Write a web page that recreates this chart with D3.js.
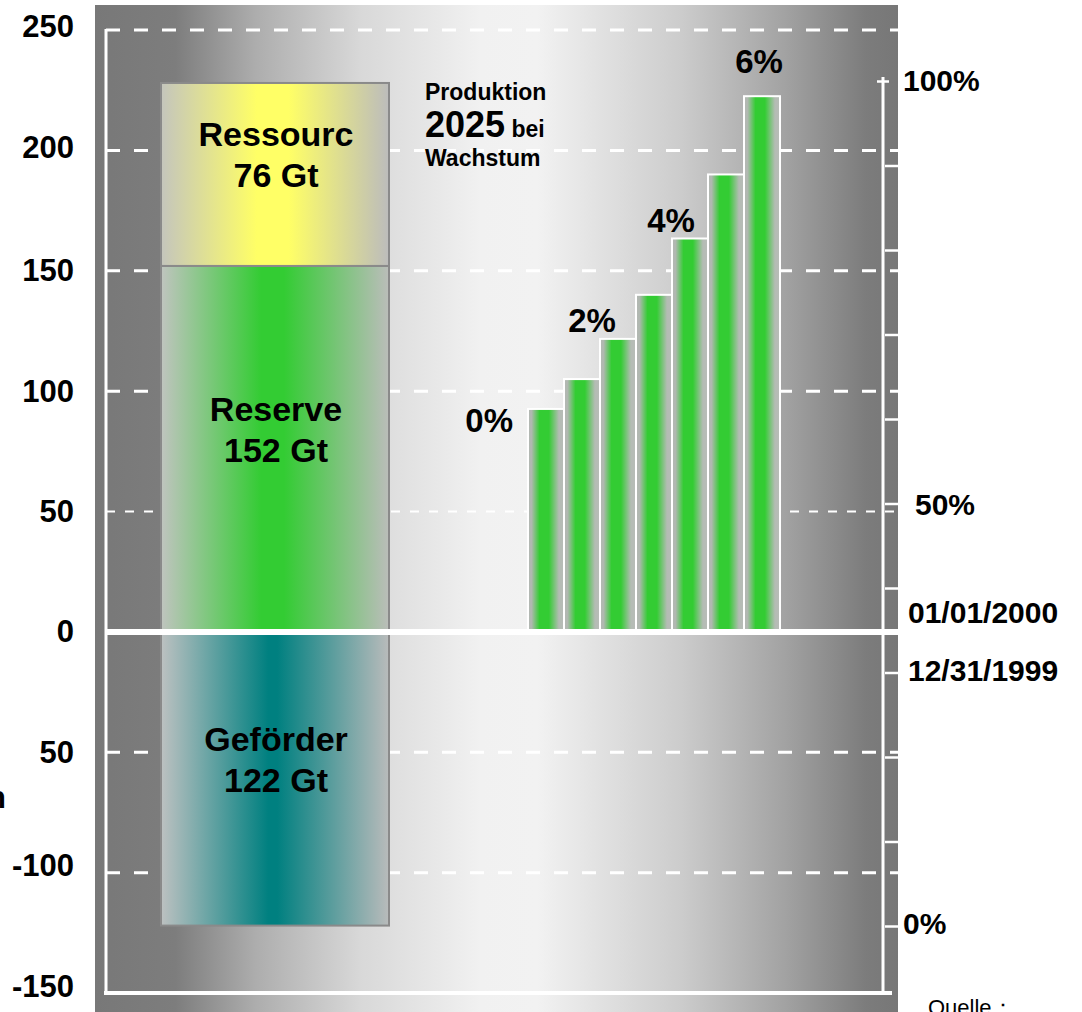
<!DOCTYPE html>
<html>
<head>
<meta charset="utf-8">
<script src="https://cdn.jsdelivr.net/npm/d3@7"></script>
<style>
  body { margin: 0; background: #ffffff; }
  svg { display: block; }
  text { font-family: "Liberation Sans", Arial, Helvetica, sans-serif; }
</style>
</head>
<body>
<svg id="chart" width="1082" height="1012"></svg>
<script>
// Coal balance (Gt): reserves and resources stacked above zero, extracted below
const stackKeys   = ["Reserve", "Ressourc", "Geförder"];
const stackValues = [152, 76, -122];
const stackText   = [["Reserve", "152 Gt"], ["Ressourc", "76 Gt"], ["Geförder", "122 Gt"]];

// Cumulative production up to 2025 for annual growth rates 0 % … 6 %
const growthRates    = ["0%", "1%", "2%", "3%", "4%", "5%", "6%"];
const production2025 = [92.6, 105, 121.7, 140, 163.4, 190, 222.5];
const growthLabels   = ["0%", "2%", "4%", "6%"];

// Left axis (Gt)
const leftTicks      = [250, 200, 150, 100, 50, 0, -50, -100, -150];
const leftTickLabels = ["250", "200", "150", "100", "50", "0", "50", "-100", "-150"];

// Right axis (share, %)
const rightTicks       = [0, 10, 20, 30, 40, 50, 60, 70, 80, 90, 100];
const rightLabelValues = [100, 50, 0];
const rightLabelTexts  = ["100%", "50%", "0%"];
const dateLabels       = ["01/01/2000", "12/31/1999"];

const svg  = d3.select("#chart");
const defs = svg.append("defs");

function hGradient(id, stops) {
  const g = defs.append("linearGradient")
    .attr("id", id).attr("x1", "0").attr("x2", "1").attr("y1", "0").attr("y2", "0");
  stops.forEach(([o, c]) => g.append("stop").attr("offset", o).attr("stop-color", c));
}

hGradient("bg", [[0, "#787878"], [0.1, "#7d7d7d"], [0.2, "#adadad"], [0.33, "#d8d8d8"],
                 [0.48, "#f1f1f1"], [0.55, "#f2f2f2"], [0.73, "#cccccc"], [0.86, "#a2a2a2"],
                 [0.96, "#7c7c7c"], [1, "#777777"]]);
hGradient("g-Ressourc", [[0, "#c4c5bd"], [0.42, "#ffff66"], [0.56, "#ffff66"], [1, "#bcbcbc"]]);
hGradient("g-Reserve",  [[0, "#c0c4bf"], [0.44, "#33cc33"], [0.54, "#33cc33"], [1, "#bbbdba"]]);
hGradient("g-Geförder", [[0, "#bdc1c1"], [0.47, "#008080"], [0.51, "#008080"], [1, "#b9bbbb"]]);
hGradient("g-bar",      [[0, "#b4b8b4"], [0.1, "#b0b8b0"], [0.32, "#33cc33"], [0.58, "#33cc33"],
                         [0.86, "#b4bcb4"], [1, "#b8bcb8"]]);

// Scales
const y = d3.scaleLinear().domain([-150, 250]).range([993, 30]);
const p = d3.scaleLinear().domain([0, 100]).range([926, 81]);
const xStack = d3.scaleBand().domain(["Kohle"]).range([161, 389]);
const xBars  = d3.scaleBand().domain(growthRates).range([528, 780]).padding(0);

const plotLeft = 95, plotRight = 898, axisX = 106, rightAxisX = 883;

// Plot background
svg.append("rect")
  .attr("x", plotLeft).attr("y", 5)
  .attr("width", plotRight - plotLeft).attr("height", 1012 - 5)
  .attr("fill", "url(#bg)");

// Dashed grid lines
const grid = svg.append("g");
leftTicks.filter(d => d !== 0 && d !== -150).forEach(d => {
  const fine = d === 50;
  grid.append("line")
    .attr("x1", axisX).attr("x2", plotRight)
    .attr("y1", y(d)).attr("y2", y(d))
    .attr("stroke", "#ffffff")
    .attr("stroke-width", fine ? 2 : 3)
    .attr("stroke-dasharray", fine ? "9,10" : "14,14");
});

// Stacked column
let posBase = 0, negBase = 0;
const segments = stackKeys.map((k, i) => {
  const v = stackValues[i];
  let y0, y1;
  if (v >= 0) { y0 = posBase; y1 = posBase + v; posBase = y1; }
  else { y0 = negBase + v; y1 = negBase; negBase = y0; }
  return { key: k, lo: y0, hi: y1, text: stackText[i] };
});

svg.append("g").selectAll("rect").data(segments).join("rect")
  .attr("x", xStack("Kohle"))
  .attr("width", xStack.bandwidth())
  .attr("y", d => y(d.hi))
  .attr("height", d => y(d.lo) - y(d.hi))
  .attr("fill", d => `url(#g-${d.key})`)
  .attr("stroke", "#8a8a8a")
  .attr("stroke-width", 2);

const segLabels = svg.append("g").attr("font-weight", "bold").attr("font-size", 34).attr("fill", "#000");
segments.forEach(s => {
  const cy = (y(s.lo) + y(s.hi)) / 2;
  const cx = xStack("Kohle") + xStack.bandwidth() / 2 + 1;
  const t = segLabels.append("text")
    .attr("text-anchor", "middle")
    .attr("x", cx)
    .attr("y", cy - 28);
  t.append("tspan").text(s.text[0]);
  t.append("tspan").attr("x", cx).attr("dy", 41).text(s.text[1]);
});

// Production bars
svg.append("g").selectAll("rect").data(production2025).join("rect")
  .attr("x", (d, i) => xBars(growthRates[i]))
  .attr("width", xBars.bandwidth())
  .attr("y", d => y(d))
  .attr("height", d => y(0) - y(d))
  .attr("fill", "url(#g-bar)")
  .attr("stroke", "#ffffff")
  .attr("stroke-width", 2);

// Growth rate labels above selected bars
const labelPlacement = {
  "0%": { anchor: "end",    dx: d => xBars(d) - 15,                         dy: 23 },
  "2%": { anchor: "middle", dx: d => xBars(d) - 8,                          dy: -7 },
  "4%": { anchor: "middle", dx: d => xBars(d) - 1,                          dy: -6 },
  "6%": { anchor: "middle", dx: d => xBars(d) + xBars.bandwidth() / 2 - 3,  dy: -23 }
};
svg.append("g").selectAll("text").data(growthLabels).join("text")
  .attr("font-weight", "bold").attr("font-size", 33).attr("fill", "#000")
  .attr("text-anchor", d => labelPlacement[d].anchor)
  .attr("x", d => labelPlacement[d].dx(d))
  .attr("y", d => y(production2025[growthRates.indexOf(d)]) + labelPlacement[d].dy)
  .text(d => d);

// Annotation
const note = svg.append("text").attr("font-weight", "bold").attr("fill", "#000").attr("x", 425);
note.append("tspan").attr("x", 425).attr("y", 100).attr("font-size", 23).text("Produktion");
note.append("tspan").attr("x", 425).attr("y", 137).attr("font-size", 36).text("2025");
note.append("tspan").attr("font-size", 23).text(" bei");
note.append("tspan").attr("x", 425).attr("y", 166).attr("font-size", 23).text("Wachstum");

// Frame lines and zero line
const frame = svg.append("g").attr("stroke", "#ffffff");
frame.append("line").attr("x1", axisX).attr("x2", axisX).attr("y1", y(250) - 1).attr("y2", y(-150) + 1).attr("stroke-width", 3);
frame.append("line").attr("x1", axisX - 2).attr("x2", 892).attr("y1", y(-150)).attr("y2", y(-150)).attr("stroke-width", 4);
frame.append("line").attr("x1", rightAxisX).attr("x2", rightAxisX).attr("y1", p(100) - 4).attr("y2", y(-150)).attr("stroke-width", 3);
frame.append("line").attr("x1", axisX - 1).attr("x2", plotRight).attr("y1", y(0)).attr("y2", y(0)).attr("stroke-width", 6);

// Left axis labels
const leftAxis = d3.axisLeft(y)
  .tickValues(leftTicks)
  .tickFormat((d, i) => leftTickLabels[i])
  .tickSize(0)
  .tickPadding(32);
const gl = svg.append("g").attr("transform", `translate(${axisX},0)`).call(leftAxis);
gl.select(".domain").remove();
gl.selectAll("text")
  .attr("font-family", "\"Liberation Sans\", Arial, sans-serif")
  .attr("font-size", 31).attr("font-weight", "bold").attr("fill", "#000")
  .attr("dy", d => d < -50 ? "0.1em" : (d > 150 ? "0.22em" : "0.32em"));

// Right axis ticks
const rightAxis = d3.axisRight(p).tickValues(rightTicks).tickSize(13).tickFormat("");
const gr = svg.append("g").attr("transform", `translate(${rightAxisX + 2},0)`).call(rightAxis);
gr.select(".domain").remove();
gr.selectAll(".tick line").attr("stroke", "#ffffff").attr("stroke-width", 2.5);
gr.selectAll(".tick").filter(d => d === 100).select("line").attr("x1", -8).attr("x2", 4);

// Right axis labels
const rightDx = [20, 32, 20];
const rightDy = [10, 11, 8];
svg.append("g").selectAll("text").data(rightLabelValues).join("text")
  .attr("font-weight", "bold").attr("font-size", 30).attr("fill", "#000")
  .attr("x", (d, i) => rightAxisX + rightDx[i])
  .attr("y", (d, i) => p(d) + rightDy[i])
  .text((d, i) => rightLabelTexts[i]);

svg.append("g").selectAll("text").data(dateLabels).join("text")
  .attr("font-weight", "bold").attr("font-size", 30).attr("fill", "#000")
  .attr("x", rightAxisX + 25)
  .attr("y", (d, i) => y(0) + (i === 0 ? -9 : 49))
  .text(d => d);

// Clipped side caption and source note
svg.append("text").attr("x", -13).attr("y", 808)
  .attr("font-weight", "bold").attr("font-size", 31).attr("fill", "#000").text("n");
svg.append("text").attr("x", 928).attr("y", 1015)
  .attr("font-size", 22).attr("fill", "#000").text("Quelle：");
</script>
</body>
</html>
